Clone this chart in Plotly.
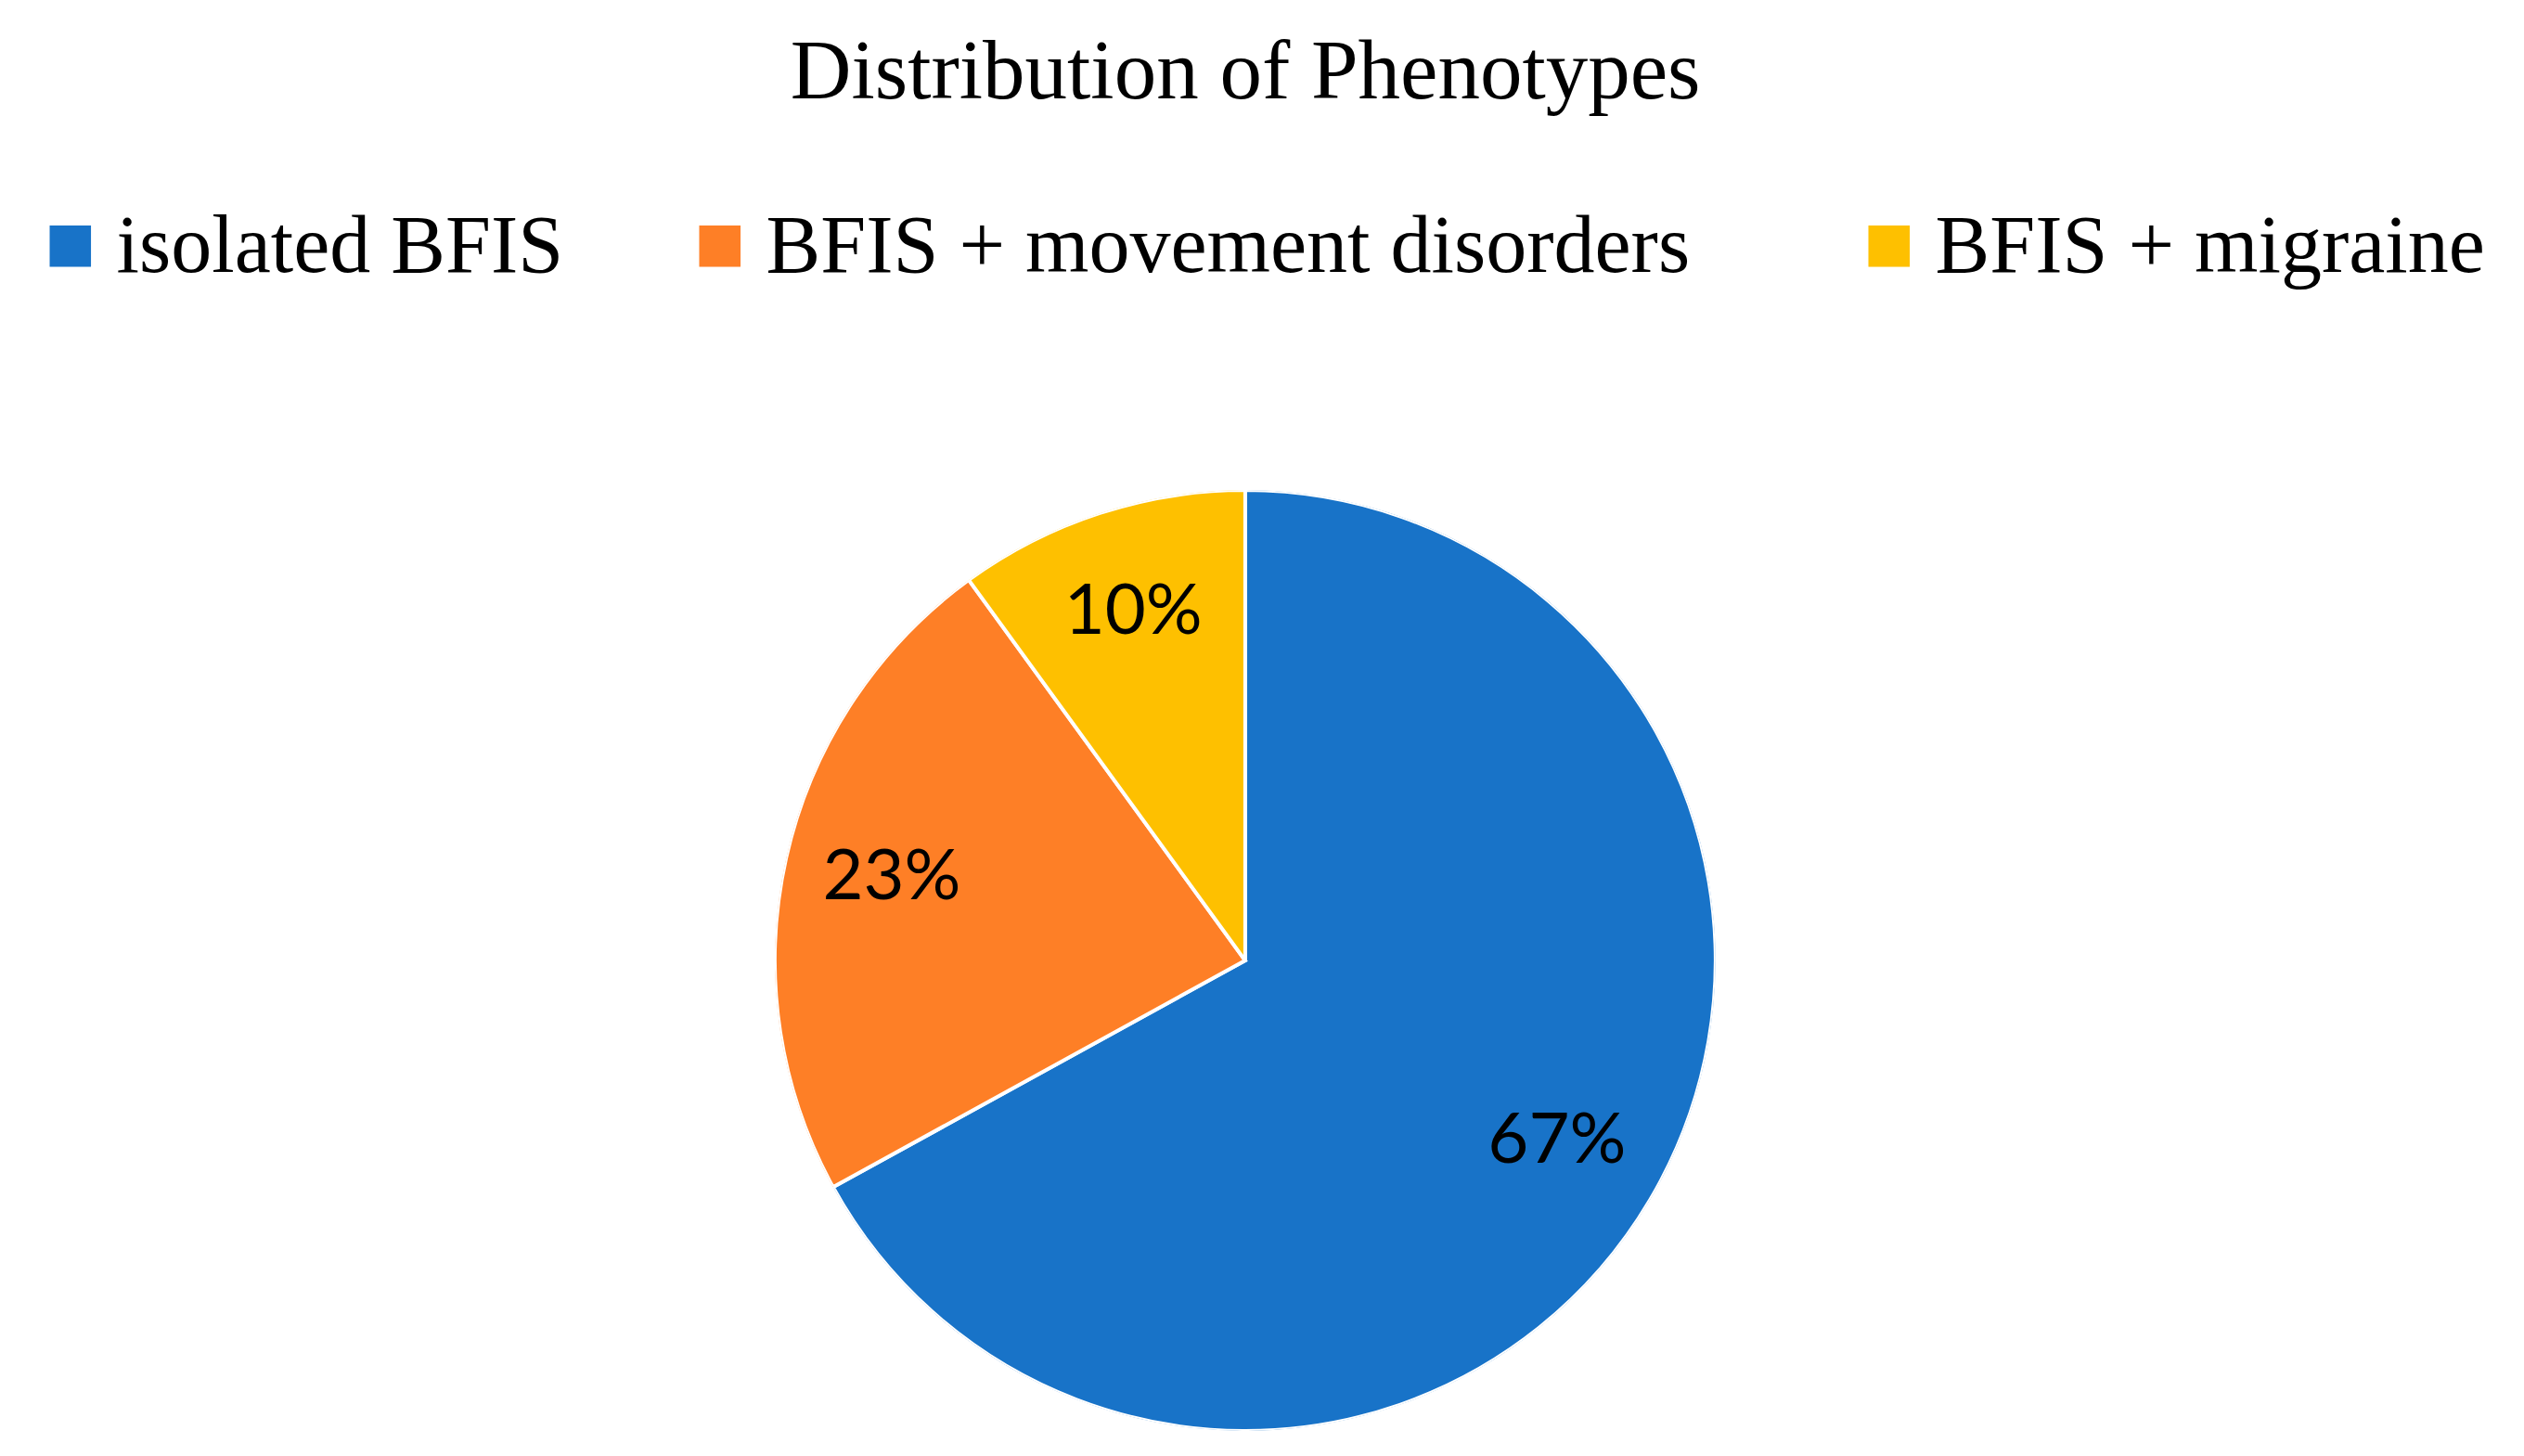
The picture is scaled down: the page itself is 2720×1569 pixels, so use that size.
import plotly.graph_objects as go

categories = ["isolated BFIS", "BFIS + movement disorders", "BFIS + migraine"]
values = [67, 23, 10]
colors = ["#1873C8", "#FE7F26", "#FEC000"]
legend_x = [0.0140, 0.2715, 0.7345]

total = sum(values)
cum = 0
mid_theta, spans = [], []
for v in values:
    mid_theta.append(360.0 * (cum + v / 2) / total)
    spans.append(360.0 * v / total)
    cum += v
pct_text = [f"{round(100 * v / total)}%" for v in values]

dom = dict(x=[0.3040, 0.6768], y=[0.0223, 0.6685])

fig = go.Figure()
# pie drawn as full-radius polar wedges
fig.add_trace(go.Barpolar(
    r=[1] * len(values),
    theta=mid_theta,
    width=spans,
    marker=dict(color=colors, line=dict(color="white", width=4)),
    customdata=categories,
    hovertemplate="%{customdata}<extra></extra>",
    showlegend=False,
))
fig.add_trace(go.Scatterpolar(
    r=[0.77] * len(values),
    theta=mid_theta,
    mode="text",
    text=pct_text,
    textposition="middle center",
    textfont=dict(family="Lato, Open Sans, sans-serif", size=76, color="black"),
    showlegend=False,
    hoverinfo="skip",
))

for cat, col, lx in zip(categories, colors, legend_x):
    fig.add_annotation(
        x=lx, y=0.838, xref="paper", yref="paper",
        xanchor="left", yanchor="middle", showarrow=False,
        text=f'<span style="color:{col};font-size:92px">■</span> {cat}',
        font=dict(family="Liberation Serif, Times New Roman, serif", size=88, color="black"),
    )

fig.update_layout(
    width=2720, height=1569,
    margin=dict(l=0, r=0, t=0, b=0),
    paper_bgcolor="white", plot_bgcolor="white",
    title=dict(
        text="Distribution of Phenotypes",
        x=0.4905, xanchor="center", y=0.958, yanchor="middle",
        font=dict(family="Liberation Serif, Times New Roman, serif", size=91, color="black"),
    ),
    polar=dict(
        domain=dom,
        bgcolor="rgba(0,0,0,0)",
        bargap=0,
        hole=0,
        radialaxis=dict(visible=False, range=[0, 1]),
        angularaxis=dict(visible=False, direction="clockwise", rotation=90),
    ),
)

fig.write_html("out.html")
